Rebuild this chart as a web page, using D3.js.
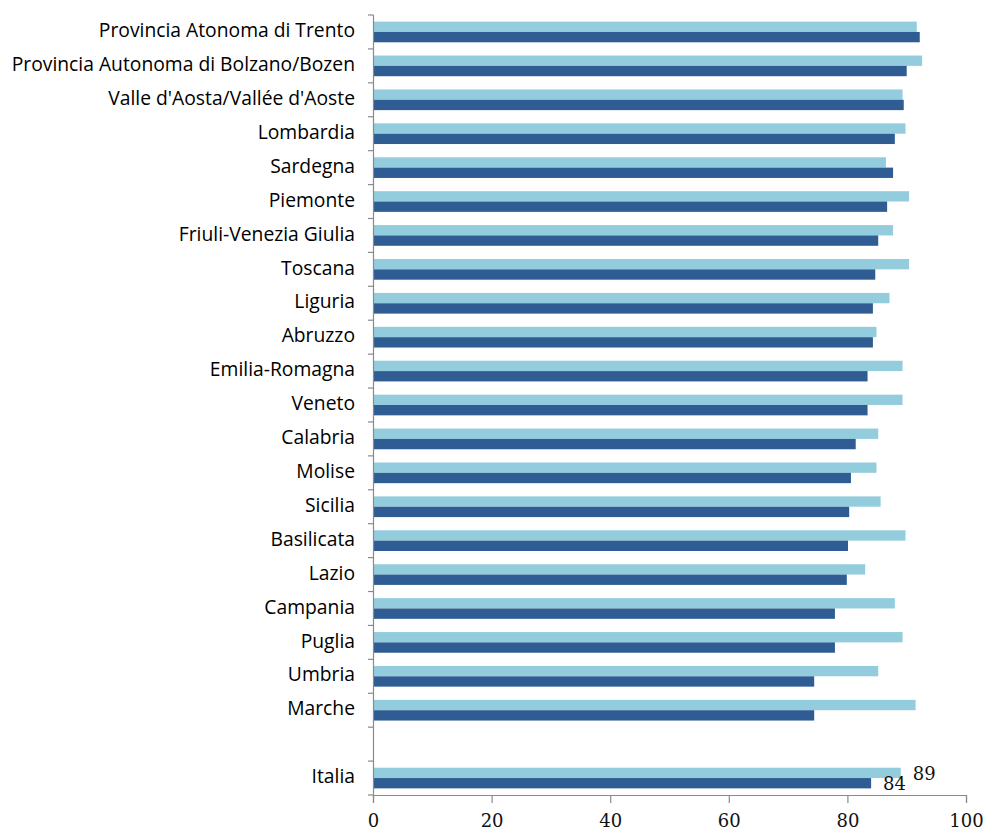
<!DOCTYPE html>
<html>
<head>
<meta charset="utf-8">
<script src="https://cdn.jsdelivr.net/npm/d3@7/dist/d3.min.js"></script>
<style>
  html, body { margin: 0; padding: 0; background: #ffffff; }
  svg { display: block; }
</style>
</head>
<body>
<svg id="chart" width="983" height="832"></svg>
<script>
// Regions listed top to bottom; "" is the empty slot before the national total
const regions = [
  "Provincia Atonoma di Trento",
  "Provincia Autonoma di Bolzano/Bozen",
  "Valle d'Aosta/Vallée d'Aoste",
  "Lombardia",
  "Sardegna",
  "Piemonte",
  "Friuli-Venezia Giulia",
  "Toscana",
  "Liguria",
  "Abruzzo",
  "Emilia-Romagna",
  "Veneto",
  "Calabria",
  "Molise",
  "Sicilia",
  "Basilicata",
  "Lazio",
  "Campania",
  "Puglia",
  "Umbria",
  "Marche",
  "",
  "Italia"
];

// Light series (upper bar in each pair)
const seriesLight = [
  91.7, 92.6, 89.3, 89.8, 86.5, 90.4, 87.7, 90.4, 87.1, 84.9, 89.3, 89.3,
  85.2, 84.9, 85.6, 89.8, 83.0, 88.0, 89.3, 85.2, 91.5, null, 89
];

// Dark series (lower bar in each pair)
const seriesDark = [
  92.2, 90.0, 89.5, 88.0, 87.7, 86.7, 85.2, 84.7, 84.3, 84.3, 83.4, 83.4,
  81.4, 80.6, 80.3, 80.1, 79.9, 77.9, 77.9, 74.4, 74.4, null, 84
];

// Values printed next to the bars
const labelledRows = ["Italia"];

const xTicks = [0, 20, 40, 60, 80, 100];

const colors = { light: "#93cddd", dark: "#2f5d93" };
const axisColor = "#8a8a8a";
const serif = "'DejaVu Serif', 'Liberation Serif', serif";

const svg = d3.select("#chart");
const margin = { top: 15, right: 17, bottom: 37, left: 373 };
const width = 983 - margin.left - margin.right;
const height = 832 - margin.top - margin.bottom;

const g = svg.append("g").attr("transform", `translate(${margin.left},${margin.top})`);

const x = d3.scaleLinear().domain([0, 100]).range([0, width]);

const y = d3.scaleBand()
  .domain(regions.map((d, i) => i))
  .range([0, height])
  .paddingInner(0.39)
  .paddingOuter(0.195);

const sub = d3.scaleBand()
  .domain(["light", "dark"])
  .range([0, y.bandwidth()]);

const rows = regions.map((name, i) => ({
  i, name, light: seriesLight[i], dark: seriesDark[i]
}));

// Bars
const rowG = g.selectAll("g.row")
  .data(rows.filter(r => r.name !== ""))
  .join("g")
  .attr("class", "row")
  .attr("transform", r => `translate(0,${y(r.i)})`);

rowG.selectAll("rect")
  .data(r => ["light", "dark"].map(k => ({ key: k, value: r[k] })))
  .join("rect")
  .attr("x", x(0))
  .attr("y", d => sub(d.key))
  .attr("width", d => x(d.value) - x(0))
  .attr("height", sub.bandwidth())
  .attr("fill", d => colors[d.key]);

// Value labels for the national total
const labelRows = rows.filter(r => labelledRows.includes(r.name));
const labelG = g.selectAll("g.vlabel")
  .data(labelRows)
  .join("g")
  .attr("class", "vlabel")
  .attr("transform", r => `translate(0,${y(r.i)})`);

labelG.append("text")
  .attr("x", r => x(r.light) + 12)
  .attr("y", sub("light") + sub.bandwidth() / 2 + 2)
  .attr("dominant-baseline", "middle")
  .attr("font-family", serif)
  .attr("font-size", 18)
  .attr("fill", "#111")
  .text(r => d3.format(".0f")(r.light));

labelG.append("text")
  .attr("x", r => x(r.dark) + 12)
  .attr("y", sub("dark") + sub.bandwidth() / 2 + 2)
  .attr("dominant-baseline", "middle")
  .attr("font-family", serif)
  .attr("font-size", 18)
  .attr("fill", "#111")
  .text(r => d3.format(".0f")(r.dark));

// Category axis: line and tick marks on slot boundaries
const step = y.step();
const boundaries = d3.range(regions.length + 1).map(k => k * step);

g.append("line")
  .attr("x1", 0.5).attr("x2", 0.5)
  .attr("y1", 0).attr("y2", height)
  .attr("stroke", axisColor)
  .attr("stroke-width", 1.2);

g.selectAll("line.ytick")
  .data(boundaries)
  .join("line")
  .attr("class", "ytick")
  .attr("x1", -5).attr("x2", 0.5)
  .attr("y1", d => d).attr("y2", d => d)
  .attr("stroke", axisColor)
  .attr("stroke-width", 1.2);

// Category labels centred in each slot
g.selectAll("text.ylabel")
  .data(rows.filter(r => r.name !== ""))
  .join("text")
  .attr("class", "ylabel")
  .attr("x", -18)
  .attr("y", r => y(r.i) + y.bandwidth() / 2)
  .attr("text-anchor", "end")
  .attr("dominant-baseline", "middle")
  .attr("font-family", "'Open Sans', Lato, sans-serif")
  .attr("font-size", 19.3)
  .attr("fill", "#000")
  .text(r => r.name);

// Value axis
const xAxis = d3.axisBottom(x)
  .tickValues(xTicks)
  .tickSize(8)
  .tickPadding(11)
  .tickFormat(d3.format("d"));

const xg = g.append("g")
  .attr("transform", `translate(0,${height})`)
  .call(xAxis);

xg.select(".domain").attr("stroke", axisColor).attr("stroke-width", 1.2);
xg.selectAll(".tick line").attr("stroke", axisColor).attr("stroke-width", 1.2);
xg.selectAll(".tick text")
  .attr("font-family", serif)
  .attr("font-size", 18)
  .attr("fill", "#111");
</script>
</body>
</html>
